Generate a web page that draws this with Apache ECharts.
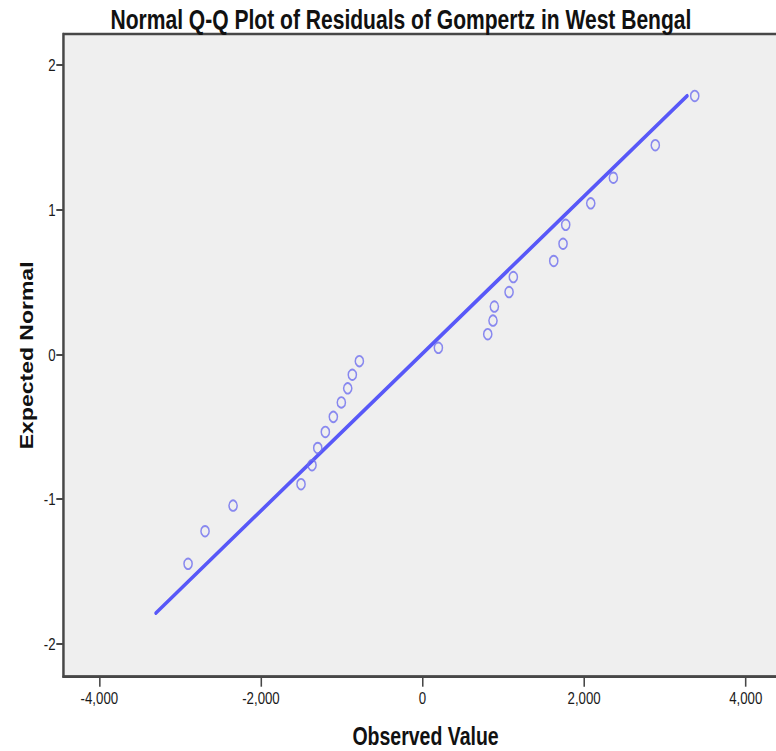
<!DOCTYPE html>
<html>
<head>
<meta charset="utf-8">
<script src="https://cdn.jsdelivr.net/npm/echarts@6/dist/echarts.min.js"></script>
<style>
  html, body { margin: 0; padding: 0; background: #ffffff; }
  #wrap { width: 776px; height: 751px; overflow: hidden; position: relative; }
  /* the chart is laid out wider and narrowed horizontally as a whole */
  #chart { width: 1010px; height: 751px; transform: scaleX(0.78); transform-origin: 0 0; }
</style>
</head>
<body>
<div id="wrap"><div id="chart"></div></div>
<script>
// Residuals (observed) and their expected normal quantiles
const observedValues = [-2902, -2692, -2345, -1504, -1368, -1297, -1203, -1104, -1005, -926, -869, -782,
  196, 807, 872, 889, 1071, 1124, 1624, 1739, 1772, 2082, 2362, 2881, 3369];
const expectedNormal = [-1.446, -1.221, -1.044, -0.896, -0.765, -0.646, -0.535, -0.431, -0.331, -0.234, -0.140, -0.046,
  0.046, 0.140, 0.234, 0.331, 0.431, 0.535, 0.646, 0.765, 0.896, 1.044, 1.221, 1.446, 1.786];

// Reference line end points
const refLineX = [-3300, 3275];
const refLineY = [-1.786, 1.786];

// Tick positions
const xTicks = [-4000, -2000, 0, 2000, 4000];
const yTicks = [-2, -1, 0, 1, 2];

const titleText = 'Normal Q-Q Plot of Residuals of Gompertz in West Bengal';
const xName = 'Observed Value';
const yName = 'Expected Normal';

const points = observedValues.map((v, i) => [v, expectedNormal[i]]);
const linePts = refLineX.map((v, i) => [v, refLineY[i]]);

const chart = echarts.init(document.getElementById('chart'), null, { renderer: 'svg' });

const axisColor = '#474747';
const fontFam = '"Liberation Sans", Arial, sans-serif';

chart.setOption({
  animation: false,
  backgroundColor: '#ffffff',
  title: {
    text: titleText,
    left: 509,
    textAlign: 'center',
    top: 1,
    textStyle: { fontFamily: fontFam, fontSize: 27, fontWeight: 'bold', color: '#111' }
  },
  grid: {
    left: 81.2, right: 0, top: 34, bottom: 74.3,
    outerBoundsMode: 'none',
    containLabel: false,
    show: true,
    backgroundColor: '#efefef',
    borderColor: axisColor,
    borderWidth: 2.5
  },
  xAxis: {
    type: 'value',
    min: -4446, max: 4521,
    name: xName,
    nameLocation: 'middle',
    nameGap: 47,
    nameTextStyle: { fontFamily: fontFam, fontSize: 25, fontWeight: 'bold', color: '#111' },
    axisLine: { show: true, onZero: false, lineStyle: { color: axisColor, width: 2.5 } },
    axisTick: { show: true, length: 10, customValues: xTicks, lineStyle: { color: axisColor, width: 2 } },
    axisLabel: {
      customValues: xTicks,
      margin: 13,
      fontFamily: fontFam, fontSize: 17, color: '#1a1a1a',
      formatter: v => v.toLocaleString('en-US')
    },
    splitLine: { show: false }
  },
  yAxis: {
    type: 'value',
    min: -2.226, max: 2.214,
    name: yName,
    nameLocation: 'middle',
    nameGap: 34,
    nameRotate: 90,
    nameTextStyle: { fontFamily: fontFam, fontSize: 23, fontWeight: 'bold', color: '#111' },
    axisLine: { show: true, onZero: false, lineStyle: { color: axisColor, width: 2.5 } },
    axisTick: { show: true, length: 9, customValues: yTicks, lineStyle: { color: axisColor, width: 2 } },
    axisLabel: {
      customValues: yTicks,
      margin: 10,
      fontFamily: fontFam, fontSize: 17, color: '#1a1a1a'
    },
    splitLine: { show: false }
  },
  series: [
    {
      type: 'line',
      data: linePts,
      symbol: 'none',
      lineStyle: { color: '#5858f8', width: 4, cap: 'round' },
      z: 2
    },
    {
      type: 'scatter',
      data: points,
      symbol: 'circle',
      symbolSize: 10.5,
      itemStyle: { color: 'rgba(0,0,0,0)', borderColor: '#6e6eef', borderWidth: 1.9 },
      z: 3
    }
  ]
});
</script>
</body>
</html>
